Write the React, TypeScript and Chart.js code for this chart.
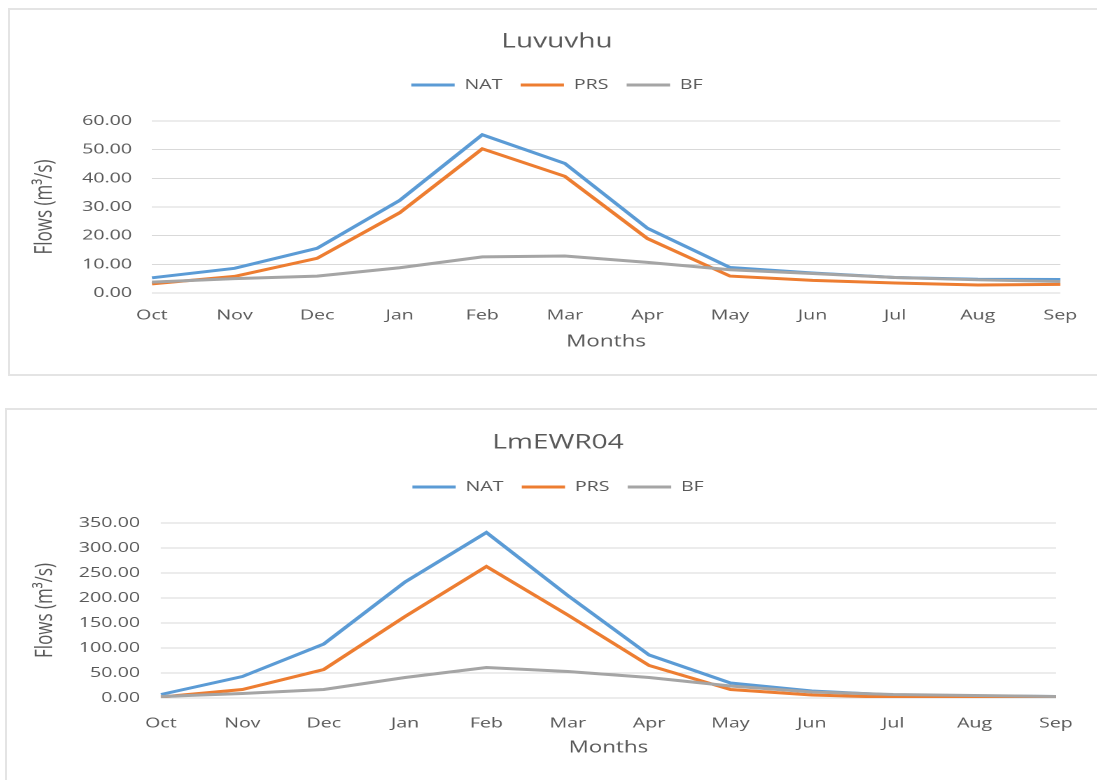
import React, { useEffect, useRef } from 'react';
import { Chart, registerables } from 'chart.js';

Chart.register(...registerables);

// ---------------- data ----------------
const months = ['Oct', 'Nov', 'Dec', 'Jan', 'Feb', 'Mar', 'Apr', 'May', 'Jun', 'Jul', 'Aug', 'Sep'];
const seriesNames = ['NAT', 'PRS', 'BF'];

const luvuvhuTitle = 'Luvuvhu';
const luvuvhuNat = [5.3, 8.6, 15.6, 32.3, 55.2, 45.2, 22.6, 8.9, 7.0, 5.4, 4.8, 4.7];
const luvuvhuPrs = [3.2, 5.8, 12.1, 28.0, 50.3, 40.7, 19.0, 5.9, 4.4, 3.5, 2.8, 3.0];
const luvuvhuBf = [3.8, 5.0, 5.9, 8.8, 12.6, 12.9, 10.7, 8.1, 6.8, 5.4, 4.6, 4.0];
const luvuvhuYMax = 60;
const luvuvhuYStep = 10;

const lmTitle = 'LmEWR04';
const lmNat = [7, 43, 108, 232, 331, 205, 86, 30, 14, 6, 4, 3];
const lmPrs = [2, 17, 57, 163, 263, 166, 65, 17, 6, 1.5, 1, 1];
const lmBf = [3, 9, 17, 41, 61, 53, 41, 24, 12, 7, 5, 3];
const lmYMax = 350;
const lmYStep = 50;

const xTitle = 'Months';
const yTitle = 'Flows (m³/s)';

// ---------------- styles ----------------
const COLORS = ['#5B9BD5', '#ED7D31', '#A5A5A5'];
const TEXT = '#595959';
const GRID = '#d9d9d9';
const FONT = "'Open Sans', sans-serif";
const SX = 1.4;

type L = {
  width: number; height: number; padLeft: number; yWidth: number; rightWidth: number;
  yTickPad: number; yTitlePad: number; titleBottom: number; legendHeight: number;
  xHeight: number; xTickPad: number; xTitleBottom: number;
};

const topLayout: L = {
  width: 777, height: 366, padLeft: 5.8, yWidth: 96.3, rightWidth: 25.6,
  yTickPad: 14.2, yTitlePad: 9.8, titleBottom: 11, legendHeight: 56,
  xHeight: 82, xTickPad: 14, xTitleBottom: 23.4,
};
const bottomLayout: L = {
  width: 779, height: 370, padLeft: 9.6, yWidth: 101.1, rightWidth: 24,
  yTickPad: 15, yTitlePad: 8.2, titleBottom: 12, legendHeight: 56,
  xHeight: 82, xTickPad: 17, xTitleBottom: 22.4,
};

const legendHeightPlugin = (h: number) => ({
  id: 'legendHeight',
  beforeLayout(chart: any) {
    const lg: any = chart.legend;
    if (lg && !lg.__patched) {
      const orig = lg.fit.bind(lg);
      lg.fit = function () {
        orig();
        this.height = h;
      };
      lg.__patched = true;
    }
  },
});

function buildChart(canvas: HTMLCanvasElement, title: string, series: number[][], yMax: number, yStep: number, lay: L) {
  const genLabels = (chart: any) => {
    const items = (Chart.defaults.plugins.legend.labels as any).generateLabels(chart);
    return items
      .sort((a: any, b: any) => a.datasetIndex - b.datasetIndex)
      .map((it: any) => ({ ...it, fillStyle: it.strokeStyle, lineWidth: 0 }));
  };
  return new Chart(canvas, {
    type: 'line',
    data: {
      labels: months,
      datasets: series.map((d, i) => ({
        label: seriesNames[i],
        data: d,
        borderColor: COLORS[i],
        backgroundColor: COLORS[i],
        borderWidth: 3,
        pointRadius: 0,
        pointHoverRadius: 0,
        tension: 0,
        fill: false,
        order: 2 - i,
      })),
    },
    options: {
      animation: false,
      responsive: false,
      devicePixelRatio: 2,
      events: [],
      layout: { padding: { left: lay.padLeft, right: 0, top: 0, bottom: 0 } },
      plugins: {
        title: {
          display: true,
          text: title,
          color: TEXT,
          font: { family: FONT, size: 20, weight: 'normal' },
          padding: { top: 21, bottom: lay.titleBottom },
        },
        legend: {
          display: true,
          position: 'top',
          labels: {
            color: TEXT,
            font: { family: FONT, size: 14 },
            boxWidth: 31,
            boxHeight: 3,
            padding: 13,
            generateLabels: genLabels,
          },
        },
        tooltip: { enabled: false },
      },
      scales: {
        x: {
          grid: { display: false, drawTicks: false },
          border: { display: false },
          ticks: {
            color: TEXT,
            font: { family: FONT, size: 14 },
            padding: lay.xTickPad,
            maxRotation: 0,
            autoSkip: false,
          },
          title: {
            display: true,
            text: xTitle,
            color: TEXT,
            font: { family: FONT, size: 16 },
            padding: { top: 0, bottom: lay.xTitleBottom },
          },
          afterFit: (s: any) => { s.height = lay.xHeight; },
        },
        y: {
          min: 0,
          max: yMax,
          grid: { color: GRID, drawTicks: false, lineWidth: 1 },
          border: { display: false },
          ticks: {
            stepSize: yStep,
            color: TEXT,
            font: { family: FONT, size: 14 },
            padding: lay.yTickPad,
            callback: (v: any) => Number(v).toFixed(2),
          },
          title: {
            display: true,
            text: yTitle,
            color: TEXT,
            font: { family: FONT, size: 17 },
            padding: { top: lay.yTitlePad, bottom: 0 },
          },
          afterFit: (s: any) => { s.width = lay.yWidth; },
        },
        yR: {
          position: 'right',
          grid: { display: false, drawTicks: false },
          border: { display: false },
          ticks: { display: false },
          afterFit: (s: any) => { s.width = lay.rightWidth; },
        },
      },
    } as any,
    plugins: [legendHeightPlugin(lay.legendHeight)],
  });
}

export default function App() {
  const c1 = useRef<HTMLCanvasElement>(null);
  const c2 = useRef<HTMLCanvasElement>(null);

  useEffect(() => {
    const a = buildChart(c1.current!, luvuvhuTitle, [luvuvhuNat, luvuvhuPrs, luvuvhuBf], luvuvhuYMax, luvuvhuYStep, topLayout);
    const b = buildChart(c2.current!, lmTitle, [lmNat, lmPrs, lmBf], lmYMax, lmYStep, bottomLayout);
    return () => { a.destroy(); b.destroy(); };
  }, []);

  const canvasStyle = (left: number, top: number, lay: L): React.CSSProperties => ({
    position: 'absolute',
    left,
    top,
    width: lay.width + 'px',
    height: lay.height + 'px',
    transform: `scaleX(${SX})`,
    transformOrigin: '0 0',
  });

  return (
    <div style={{ position: 'fixed', left: 0, top: 0, width: 1097, height: 780, background: '#fff', overflow: 'hidden' }}>
      <div style={{ position: 'absolute', left: 8, top: 8, width: 1100, height: 368, border: '2px solid #e4e4e4', boxSizing: 'border-box' }} />
      <div style={{ position: 'absolute', left: 5, top: 408, width: 1100, height: 390, border: '2px solid #e4e4e4', boxSizing: 'border-box' }} />
      <canvas ref={c1} width={topLayout.width} height={topLayout.height} style={canvasStyle(9, 9, topLayout)} />
      <canvas ref={c2} width={bottomLayout.width} height={bottomLayout.height} style={canvasStyle(6, 410, bottomLayout)} />
    </div>
  );
}
